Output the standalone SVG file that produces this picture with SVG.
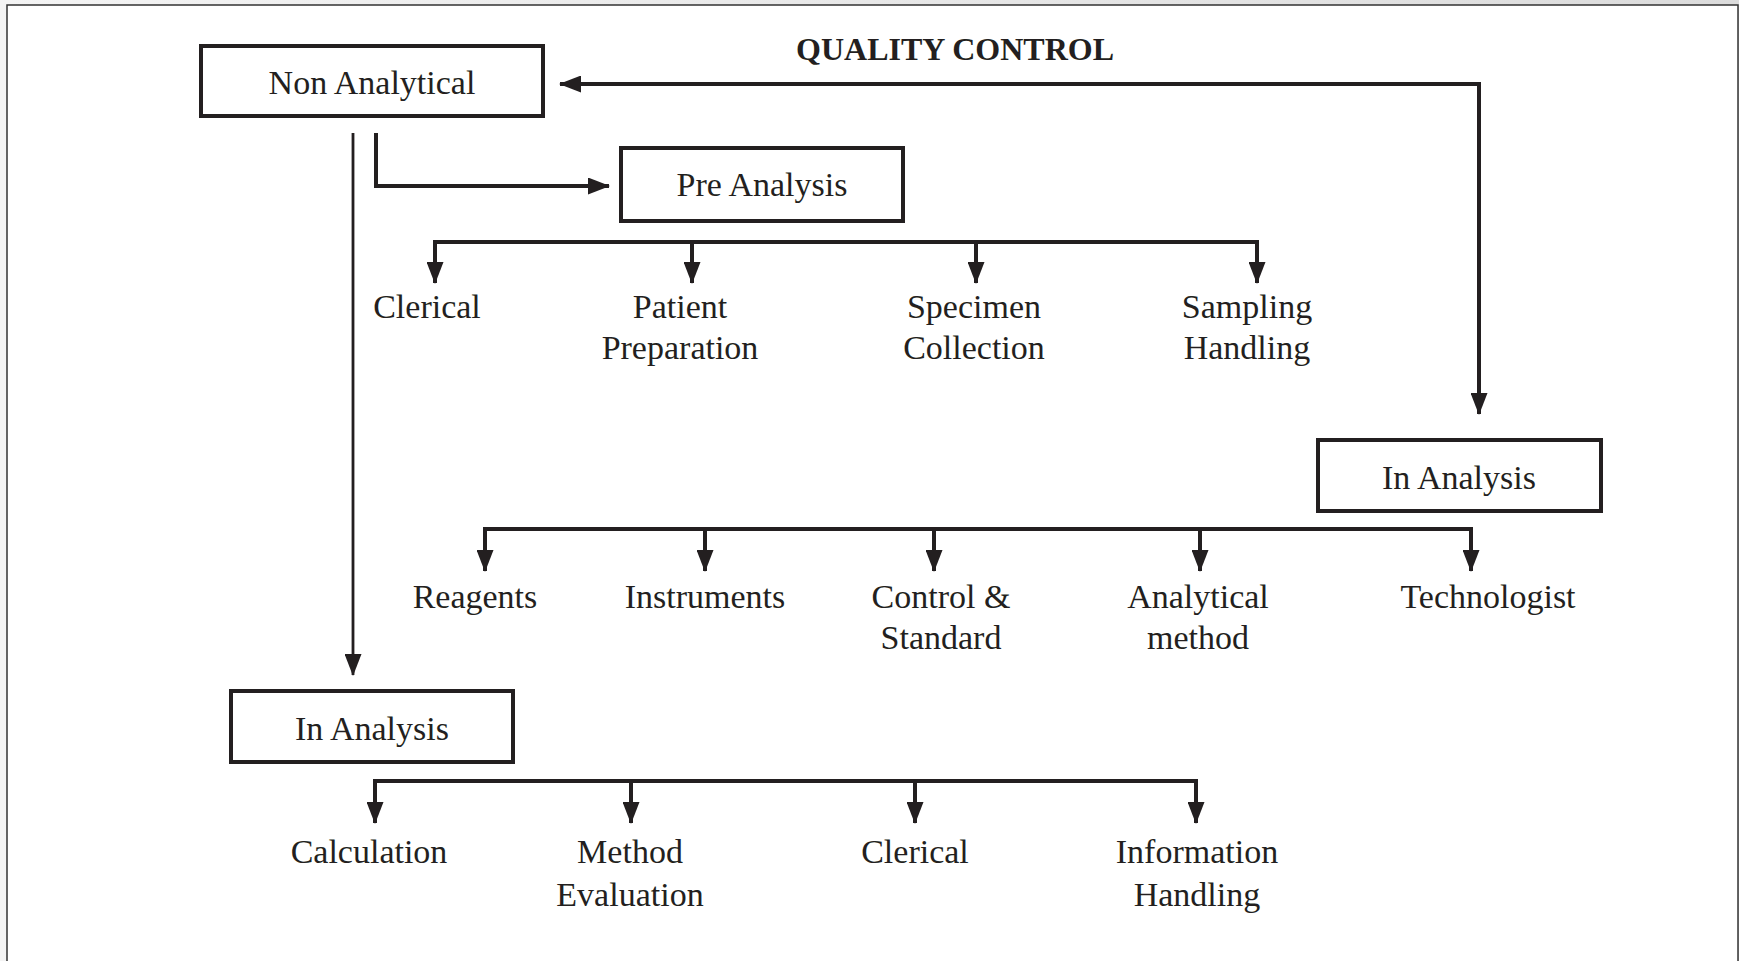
<svg xmlns="http://www.w3.org/2000/svg" width="1739" height="961" viewBox="0 0 1739 961">
  <defs>
    <linearGradient id="bgL" x1="0" y1="0" x2="1" y2="0">
      <stop offset="0" stop-color="#f4f4f4"/>
      <stop offset="1" stop-color="#dcdcdc"/>
    </linearGradient>
    <marker id="ah" viewBox="0 0 22 17" refX="21" refY="8.5" markerWidth="22" markerHeight="17" markerUnits="userSpaceOnUse" orient="auto-start-reverse">
      <path d="M0,0 L22,8.5 L0,17 Z" fill="#231f20"/>
    </marker>
  </defs>
  <style>
    .box { fill: #ffffff; stroke: #231f20; stroke-width: 4; }
    .lbl { font-family: "Liberation Serif", "Times New Roman", serif; font-size: 34px; fill: #231f20; text-anchor: middle; }
    .title { font-family: "Liberation Serif", "Times New Roman", serif; font-size: 32px; font-weight: bold; fill: #231f20; text-anchor: middle; }
    .con { fill: none; stroke: #231f20; stroke-width: 4; }
    .thin { fill: none; stroke: #231f20; stroke-width: 2.8; }
  </style>

  <rect x="0" y="0" width="1739" height="961" fill="url(#bgL)"/>
  <rect x="7" y="5" width="1731" height="960" fill="#ffffff" stroke="#333333" stroke-width="1.5"/>

  <text class="title" x="955" y="60">QUALITY CONTROL</text>

  <g id="connectors">
    <path class="con" d="M560,84 H1479 V414" marker-start="url(#ah)" marker-end="url(#ah)"/>
    <path class="thin" d="M353,133 V675" marker-end="url(#ah)"/>
    <path class="con" d="M376,133 V186 H609" marker-end="url(#ah)"/>

    <path class="con" d="M435,283 V242 H1257 V283" marker-start="url(#ah)" marker-end="url(#ah)"/>
    <path class="con" d="M692,242 V283" marker-end="url(#ah)"/>
    <path class="con" d="M976,242 V283" marker-end="url(#ah)"/>

    <path class="con" d="M485,571 V529 H1471 V571" marker-start="url(#ah)" marker-end="url(#ah)"/>
    <path class="con" d="M705,529 V571" marker-end="url(#ah)"/>
    <path class="con" d="M934,529 V571" marker-end="url(#ah)"/>
    <path class="con" d="M1200,529 V571" marker-end="url(#ah)"/>

    <path class="con" d="M375,823 V781 H1196 V823" marker-start="url(#ah)" marker-end="url(#ah)"/>
    <path class="con" d="M631,781 V823" marker-end="url(#ah)"/>
    <path class="con" d="M915,781 V823" marker-end="url(#ah)"/>
  </g>

  <g id="non-analytical">
    <rect class="box" x="201" y="46" width="342" height="70"/>
    <text class="lbl" x="372" y="94">Non Analytical</text>
  </g>
  <g id="pre-analysis">
    <rect class="box" x="621" y="148" width="282" height="73"/>
    <text class="lbl" x="762" y="196">Pre Analysis</text>
  </g>
  <g id="in-analysis-right">
    <rect class="box" x="1318" y="440" width="283" height="71"/>
    <text class="lbl" x="1459" y="489">In Analysis</text>
  </g>
  <g id="in-analysis-lower">
    <rect class="box" x="231" y="691" width="282" height="71"/>
    <text class="lbl" x="372" y="740">In Analysis</text>
  </g>

  <g id="pre-clerical"><text class="lbl" x="427" y="318">Clerical</text></g>
  <g id="patient-preparation"><text class="lbl" x="680" y="318">Patient</text><text class="lbl" x="680" y="359">Preparation</text></g>
  <g id="specimen-collection"><text class="lbl" x="974" y="318">Specimen</text><text class="lbl" x="974" y="359">Collection</text></g>
  <g id="sampling-handling"><text class="lbl" x="1247" y="318">Sampling</text><text class="lbl" x="1247" y="359">Handling</text></g>

  <g id="reagents"><text class="lbl" x="475" y="608">Reagents</text></g>
  <g id="instruments"><text class="lbl" x="705" y="608">Instruments</text></g>
  <g id="control-standard"><text class="lbl" x="941" y="608">Control &amp;</text><text class="lbl" x="941" y="649">Standard</text></g>
  <g id="analytical-method"><text class="lbl" x="1198" y="608">Analytical</text><text class="lbl" x="1198" y="649">method</text></g>
  <g id="technologist"><text class="lbl" x="1488" y="608">Technologist</text></g>

  <g id="calculation"><text class="lbl" x="369" y="863">Calculation</text></g>
  <g id="method-evaluation"><text class="lbl" x="630" y="863">Method</text><text class="lbl" x="630" y="906">Evaluation</text></g>
  <g id="post-clerical"><text class="lbl" x="915" y="863">Clerical</text></g>
  <g id="information-handling"><text class="lbl" x="1197" y="863">Information</text><text class="lbl" x="1197" y="906">Handling</text></g>
</svg>
